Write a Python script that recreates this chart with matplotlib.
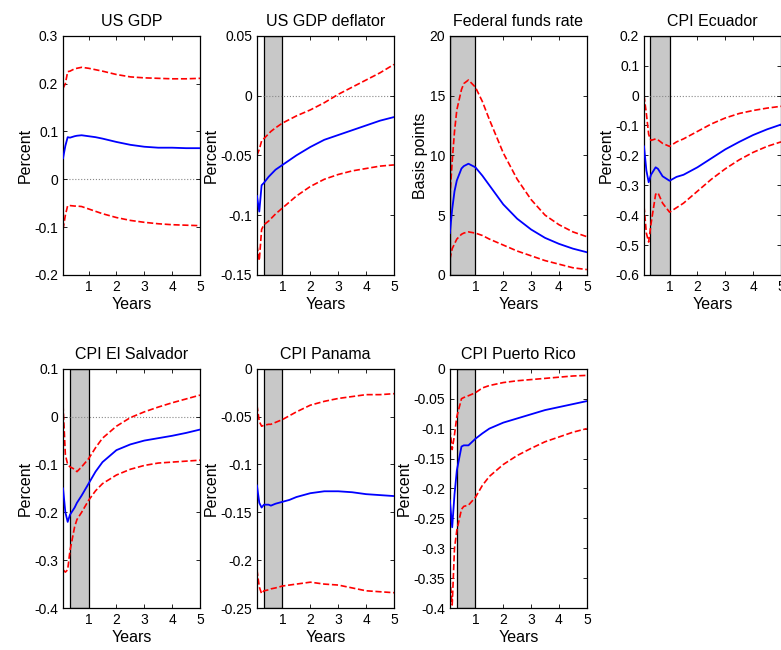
import numpy as np
import matplotlib
matplotlib.use("Agg")
import matplotlib.pyplot as plt
from matplotlib.ticker import FuncFormatter

plt.rcParams['font.family'] = ['Liberation Sans', 'DejaVu Sans']

years = [0.083, 0.167, 0.25, 0.333, 0.5, 0.583, 0.75, 1, 1.25, 1.5, 2, 2.5, 3, 3.5, 4, 4.5, 5]

gdp_mid = [0.044, 0.07, 0.088, 0.087, 0.09, 0.091, 0.092, 0.09, 0.088, 0.085, 0.078, 0.072, 0.068, 0.066, 0.066, 0.065, 0.065]
gdp_hi = [0.19, 0.2, 0.225, 0.226, 0.231, 0.232, 0.234, 0.232, 0.229, 0.226, 0.219, 0.214, 0.212, 0.211, 0.21, 0.21, 0.211]
gdp_lo = [-0.105, -0.075, -0.055, -0.055, -0.056, -0.056, -0.057, -0.062, -0.067, -0.072, -0.08, -0.086, -0.09, -0.093, -0.095, -0.096, -0.097]

defl_mid = [-0.084, -0.097, -0.075, -0.073, -0.068, -0.066, -0.062, -0.058, -0.054, -0.05, -0.043, -0.037, -0.033, -0.029, -0.025, -0.021, -0.018]
defl_hi = [-0.05, -0.045, -0.038, -0.036, -0.032, -0.03, -0.027, -0.023, -0.02, -0.017, -0.012, -0.006, 0.001, 0.007, 0.013, 0.019, 0.026]
defl_lo = [-0.125, -0.138, -0.112, -0.108, -0.105, -0.103, -0.099, -0.094, -0.089, -0.084, -0.076, -0.07, -0.066, -0.063, -0.061, -0.059, -0.058]

ffr_mid = [3.5, 5.5, 7.0, 7.9, 8.9, 9.1, 9.3, 9.0, 8.3, 7.5, 5.9, 4.7, 3.8, 3.1, 2.6, 2.2, 1.9]
ffr_hi = [6.5, 9.5, 12.0, 13.8, 15.5, 16.0, 16.3, 15.7, 14.5, 13.0, 10.2, 8.0, 6.3, 5.0, 4.2, 3.6, 3.2]
ffr_lo = [1.3, 2.2, 2.6, 3.0, 3.4, 3.5, 3.6, 3.5, 3.3, 3.0, 2.5, 2.0, 1.6, 1.2, 0.9, 0.6, 0.45]

ecu_mid = [-0.17, -0.25, -0.29, -0.265, -0.24, -0.245, -0.27, -0.285, -0.272, -0.265, -0.24, -0.21, -0.18, -0.155, -0.132, -0.113, -0.097]
ecu_hi = [0.0, -0.06, -0.13, -0.15, -0.145, -0.148, -0.16, -0.17, -0.155, -0.145, -0.12, -0.095, -0.075, -0.06, -0.05, -0.042, -0.036]
ecu_lo = [-0.37, -0.46, -0.49, -0.43, -0.33, -0.325, -0.36, -0.39, -0.375, -0.36, -0.32, -0.28, -0.245, -0.215, -0.19, -0.17, -0.155]

slv_mid = [-0.15, -0.2, -0.22, -0.205, -0.19, -0.18, -0.165, -0.14, -0.115, -0.095, -0.07, -0.058, -0.05, -0.045, -0.04, -0.034, -0.027]
slv_hi = [0.025, -0.08, -0.1, -0.105, -0.11, -0.115, -0.105, -0.088, -0.065, -0.045, -0.02, -0.002, 0.01, 0.02, 0.029, 0.037, 0.045]
slv_lo = [-0.32, -0.325, -0.32, -0.28, -0.23, -0.215, -0.2, -0.175, -0.155, -0.14, -0.122, -0.11, -0.102, -0.097, -0.095, -0.093, -0.091]

pan_mid = [-0.122, -0.14, -0.145, -0.142, -0.142, -0.143, -0.141, -0.139, -0.137, -0.134, -0.13, -0.128, -0.128, -0.129, -0.131, -0.132, -0.133]
pan_hi = [-0.038, -0.055, -0.06, -0.059, -0.058, -0.058, -0.056, -0.053, -0.049, -0.045, -0.038, -0.034, -0.031, -0.029, -0.027, -0.027, -0.026]
pan_lo = [-0.21, -0.228, -0.235, -0.232, -0.231, -0.23, -0.229, -0.227, -0.226, -0.225, -0.223, -0.225, -0.226, -0.229, -0.232, -0.233, -0.234]

pr_mid = [-0.22, -0.265, -0.21, -0.17, -0.13, -0.128, -0.128, -0.117, -0.108, -0.1, -0.09, -0.083, -0.076, -0.069, -0.064, -0.059, -0.054]
pr_hi = [-0.1, -0.135, -0.11, -0.08, -0.05, -0.048, -0.045, -0.04, -0.032, -0.028, -0.023, -0.02, -0.018, -0.016, -0.014, -0.012, -0.011]
pr_lo = [-0.35, -0.395, -0.3, -0.27, -0.235, -0.23, -0.228, -0.215, -0.195, -0.18, -0.16, -0.145, -0.133, -0.122, -0.114, -0.106, -0.1]

titles = ["US GDP", "US GDP deflator", "Federal funds rate", "CPI Ecuador",
          "CPI El Salvador", "CPI Panama", "CPI Puerto Rico"]
ylabels = ["Percent", "Percent", "Basis points", "Percent", "Percent", "Percent", "Percent"]
ylims = [(-0.2, 0.3), (-0.15, 0.05), (0, 20), (-0.6, 0.2), (-0.4, 0.1), (-0.25, 0), (-0.4, 0)]
yticks = [np.arange(-0.2, 0.31, 0.1), np.arange(-0.15, 0.051, 0.05), np.arange(0, 21, 5),
          np.arange(-0.6, 0.21, 0.1), np.arange(-0.4, 0.11, 0.1), np.arange(-0.25, 0.01, 0.05),
          np.arange(-0.4, 0.01, 0.05)]
bands = [None, (0.333, 1), (0.083, 1), (0.3, 1), (0.333, 1), (0.333, 1), (0.333, 1)]
series = [(gdp_mid, gdp_hi, gdp_lo), (defl_mid, defl_hi, defl_lo), (ffr_mid, ffr_hi, ffr_lo),
          (ecu_mid, ecu_hi, ecu_lo), (slv_mid, slv_hi, slv_lo), (pan_mid, pan_hi, pan_lo),
          (pr_mid, pr_hi, pr_lo)]

fig = plt.figure(figsize=(7.81, 6.5), dpi=100)
lefts = [0.0807, 0.329, 0.576, 0.8246]
w, h = 0.1754, 0.368

fmt = FuncFormatter(lambda v, p: "0" if abs(v) < 1e-9 else ("%g" % round(v, 4)))

for i in range(7):
    row, col = divmod(i, 4)
    bottom = 0.577 if row == 0 else 0.0646
    ax = fig.add_axes([lefts[col], bottom, w, h])
    mid, hi, lo = series[i]
    if bands[i] is not None:
        ax.axvspan(bands[i][0], bands[i][1], facecolor='#c8c8c8', edgecolor='black', lw=0.9, zorder=0)
    lo_y, hi_y = ylims[i]
    if lo_y < 0 < hi_y:
        ax.axhline(0, color='#888888', ls=':', lw=0.8, zorder=1)
    ax.plot(years, hi, 'r--', lw=1.2, zorder=2)
    ax.plot(years, lo, 'r--', lw=1.2, zorder=2)
    ax.plot(years, mid, 'b-', lw=1.3, zorder=3)
    ax.set_xlim(0.083, 5)
    ax.set_ylim(lo_y, hi_y)
    ax.set_xticks([1, 2, 3, 4, 5])
    ax.set_yticks(yticks[i])
    ax.yaxis.set_major_formatter(fmt)
    ax.tick_params(direction='in', top=True, right=True, labelsize=10, length=3, width=0.6)
    for s in ax.spines.values():
        s.set_linewidth(0.9)
    ax.set_title(titles[i], fontsize=11.5, pad=7)
    ax.set_xlabel("Years", fontsize=11.5, labelpad=2)
    ax.set_ylabel(ylabels[i], fontsize=11.5, labelpad=1)

plt.savefig("out.png", dpi=100)
